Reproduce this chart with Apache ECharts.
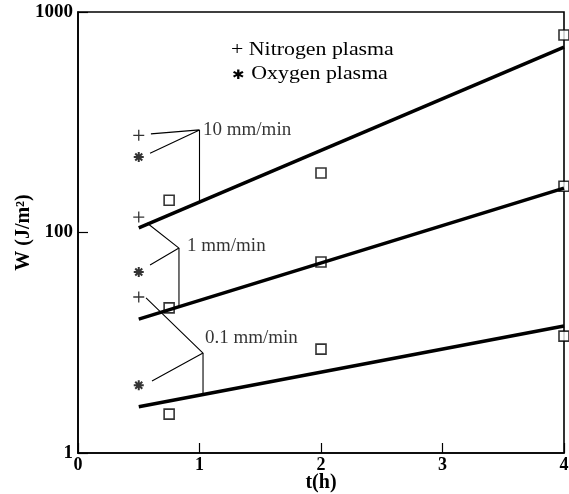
<!DOCTYPE html>
<html>
<head>
<meta charset="utf-8">
<style>
  html, body { margin: 0; padding: 0; background: #fff; }
  #chart-panel { width: 569px; height: 494px; }
</style>
<script src="https://cdn.jsdelivr.net/npm/echarts@6/dist/echarts.min.js"></script>
</head>
<body>
<div id="chart-panel"></div>
<script type="text/javascript">
// fitted lines, [t, W] at both ends
var fit10 = [[0.5, 105], [4, 693]];
var fit1 = [[0.5, 40.5], [4, 159]];
var fit01 = [[0.5, 16.2], [4, 37.7]];

// open squares, [t, W]
var squares = [
  [0.75, 140], [2, 186], [4, 787],
  [0.75, 45.5], [2, 73.5], [4, 162],
  [0.75, 15.0], [2, 29.6], [4, 33.9]
];
// nitrogen plasma (+) and oxygen plasma (*)
var nitrogen = [[0.5, 276], [0.5, 117.5], [0.5, 51]];
var oxygen = [[0.5, 220], [0.5, 66.2], [0.5, 20.3]];

var xTicks = [0, 1, 2, 3, 4];
var yTickLabels = { 10: '1', 100: '100', 1000: '1000' };

// leader lines from the markers to the rate labels
var leaders = [
  [[0.60, 280], [1.0, 292], [0.593, 229]],
  [[1.0, 292], [1.0, 137.3]],
  [[0.568, 110.4], [0.831, 85.0], [0.593, 71.2]],
  [[0.831, 85.0], [0.831, 46.1]],
  [[0.56, 50.5], [1.029, 28.4], [0.609, 21.2]],
  [[1.029, 28.4], [1.029, 18.4]]
];
var rateLabels = [
  { name: '10 mm/min', value: [1.029, 291.6] },
  { name: '1 mm/min', value: [0.897, 86.9] },
  { name: '0.1 mm/min', value: [1.045, 33.2] }
];

var serif = 'Liberation Serif';
var myChart = echarts.init(document.getElementById('chart-panel'));

var series = [];
[fit10, fit1, fit01].forEach(function (d) {
  series.push({
    type: 'line', data: d, symbol: 'none', silent: true,
    lineStyle: { color: '#000', width: 3.5 }
  });
});
leaders.forEach(function (d) {
  series.push({
    type: 'line', data: d, symbol: 'none', silent: true,
    lineStyle: { color: '#000', width: 1.1 }
  });
});
series.push({
  type: 'scatter', data: squares, symbol: 'rect', symbolSize: 10, clip: false,
  itemStyle: { color: '#fff', borderColor: '#000', borderWidth: 1.6 }
});
series.push({
  type: 'scatter', data: nitrogen, symbol: 'path://M0,5L10,5M5,0L5,10', symbolSize: 11,
  itemStyle: { color: 'transparent', borderColor: '#000', borderWidth: 1.3 }
});
series.push({
  type: 'scatter', data: oxygen,
  symbol: 'path://M0,5L10,5M5,0L5,10M1.5,1.5L8.5,8.5M8.5,1.5L1.5,8.5', symbolSize: 10,
  itemStyle: { color: 'transparent', borderColor: '#000', borderWidth: 2 }
});
series.push({
  type: 'scatter', data: rateLabels, symbolSize: 0,
  label: {
    show: true, position: 'right', distance: 0, formatter: '{b}',
    fontFamily: serif, fontSize: 19, color: '#000'
  }
});

var option = {
  animation: false,
  backgroundColor: '#fff',
  grid: {
    left: 78, right: 5, top: 12, bottom: 41, outerBoundsMode: 'none', containLabel: false,
    show: true, borderColor: '#000', borderWidth: 1.6
  },
  xAxis: {
    type: 'value', min: xTicks[0], max: xTicks[xTicks.length - 1], interval: 1,
    name: 't(h)', nameLocation: 'middle', nameGap: 20, nameMoveOverlap: false,
    nameTextStyle: { fontFamily: serif, fontSize: 20, fontWeight: 'bold', color: '#000' },
    axisLine: { lineStyle: { color: '#000', width: 1.6 } },
    axisTick: { inside: true, length: 10, lineStyle: { color: '#000', width: 1.2 } },
    axisLabel: { fontFamily: serif, fontSize: 18, fontWeight: 'bold', color: '#000', margin: 3 },
    splitLine: { show: false }
  },
  yAxis: {
    type: 'log', logBase: 10, min: 10, max: 1000,
    name: 'W (J/m²)', nameLocation: 'middle', nameGap: 44, nameRotate: 90, nameMoveOverlap: false,
    nameTextStyle: { fontFamily: serif, fontSize: 20, fontWeight: 'bold', color: '#000' },
    axisLine: { lineStyle: { color: '#000', width: 1.6 } },
    axisTick: { inside: true, length: 10, lineStyle: { color: '#000', width: 1.2 } },
    axisLabel: {
      fontFamily: serif, fontSize: 19, fontWeight: 'bold', color: '#000', margin: 5,
      formatter: function (v) { return yTickLabels[Math.round(v)] || ''; }
    },
    splitLine: { show: false }
  },
  graphic: [
    { type: 'text', x: 231, y: 41, scaleX: 1.15, style: { text: '+ Nitrogen plasma', font: '19px "Liberation Serif"', fill: '#000' } },
    {
      type: 'text', x: 231, y: 65, scaleX: 1.15,
      style: {
        text: '{s|✱} Oxygen plasma', font: '19px "Liberation Serif"', fill: '#000',
        rich: { s: { fontSize: 13, fontFamily: 'DejaVu Sans', fill: '#000', padding: [2, 1, 0, 1] } }
      }
    }
  ],
  series: series
};
myChart.setOption(option);
</script>
</body>
</html>
